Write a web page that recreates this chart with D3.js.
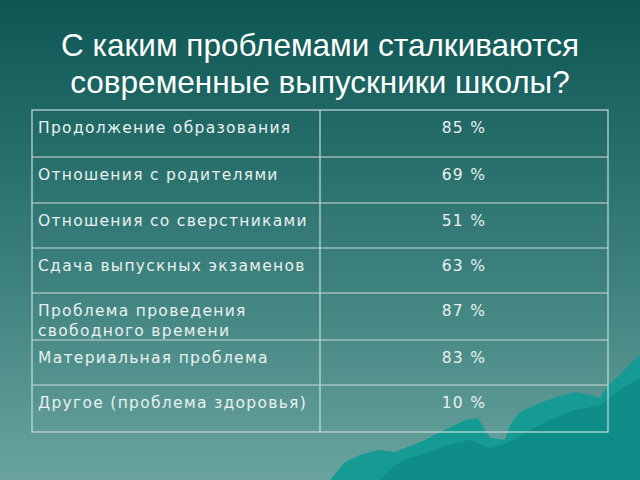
<!DOCTYPE html>
<html><head><meta charset="utf-8">
<script src="https://cdn.jsdelivr.net/npm/d3@7"></script>
<style>body{margin:0;overflow:hidden}</style>
</head><body>
<svg id="chart" width="640" height="480"></svg>
<script>
// Table data
const problems = ['Продолжение образования', 'Отношения с родителями', 'Отношения со сверстниками',
  'Сдача выпускных экзаменов', ['Проблема проведения', 'свободного времени'], 'Материальная проблема',
  'Другое (проблема здоровья)'];
const percents = [85, 69, 51, 63, 87, 83, 10];
const rowEdges = [110, 157, 203, 248, 293, 340, 385, 432];
const titleLines = ['С каким проблемами сталкиваются', 'современные выпускники школы?'];

const svg = d3.select('#chart');
const defs = svg.append('defs');
const grad = defs.append('linearGradient').attr('id', 'bg').attr('x1', 0).attr('y1', 0).attr('x2', 0).attr('y2', 1);
grad.append('stop').attr('offset', '0%').attr('stop-color', '#0d5654');
grad.append('stop').attr('offset', '55%').attr('stop-color', '#3a7f7b');
grad.append('stop').attr('offset', '100%').attr('stop-color', '#6aa39e');
svg.append('rect').attr('width', 640).attr('height', 480).attr('fill', 'url(#bg)');

// mountain decoration
svg.append('path')
  .attr('d', 'M330,480 L345,462 L360,455 L378,450 L395,452 L410,446 L425,440 L440,432 L455,425 L465,420 L478,418 L490,438 L505,440 L510,425 L520,412 L535,405 L548,400 L560,396 L575,392 L590,395 L600,398 L608,385 L620,375 L632,362 L640,355 L640,480 Z')
  .attr('fill', '#169a94');
svg.append('path')
  .attr('d', 'M380,480 L395,465 L410,458 L430,452 L445,446 L470,440 L490,448 L510,442 L530,430 L550,420 L575,410 L600,405 L620,390 L640,378 L640,480 Z')
  .attr('fill', '#0c8a85').attr('opacity', 0.8);

svg.selectAll('text.title').data(titleLines).join('text')
  .attr('x', 320).attr('y', (d, i) => 56 + i * 37)
  .attr('text-anchor', 'middle').attr('fill', '#ffffff')
  .attr('font-family', 'Liberation Sans, Arial, sans-serif').attr('font-size', 31.5)
  .text(d => d);

const x0 = 32, xm = 320, x1 = 608;
const g = svg.append('g').attr('stroke', '#c9dcd9').attr('stroke-width', 1.2).attr('fill', 'none');
g.append('rect').attr('x', x0).attr('y', rowEdges[0]).attr('width', x1 - x0).attr('height', rowEdges[7] - rowEdges[0]);
g.append('line').attr('x1', xm).attr('x2', xm).attr('y1', rowEdges[0]).attr('y2', rowEdges[7]);
g.selectAll('line.h').data(rowEdges.slice(1, -1)).join('line')
  .attr('x1', x0).attr('x2', x1).attr('y1', d => d).attr('y2', d => d);

const font = 'DejaVu Sans, sans-serif';
problems.forEach((p, i) => {
  const lines = Array.isArray(p) ? p : [p];
  const t = svg.append('text').attr('fill', '#e8f1ef').attr('font-family', font)
    .attr('font-size', 15.5).attr('letter-spacing', 1.3);
  lines.forEach((l, j) => t.append('tspan').attr('x', 38).attr('y', rowEdges[i] + 23 + j * 20).text(l));
  svg.append('text').attr('x', 464).attr('y', rowEdges[i] + 23)
    .attr('text-anchor', 'middle').attr('fill', '#e8f1ef').attr('font-family', font)
    .attr('font-size', 15.5).attr('letter-spacing', 1.3)
    .text(percents[i] + ' %');
});
</script>
</body></html>
